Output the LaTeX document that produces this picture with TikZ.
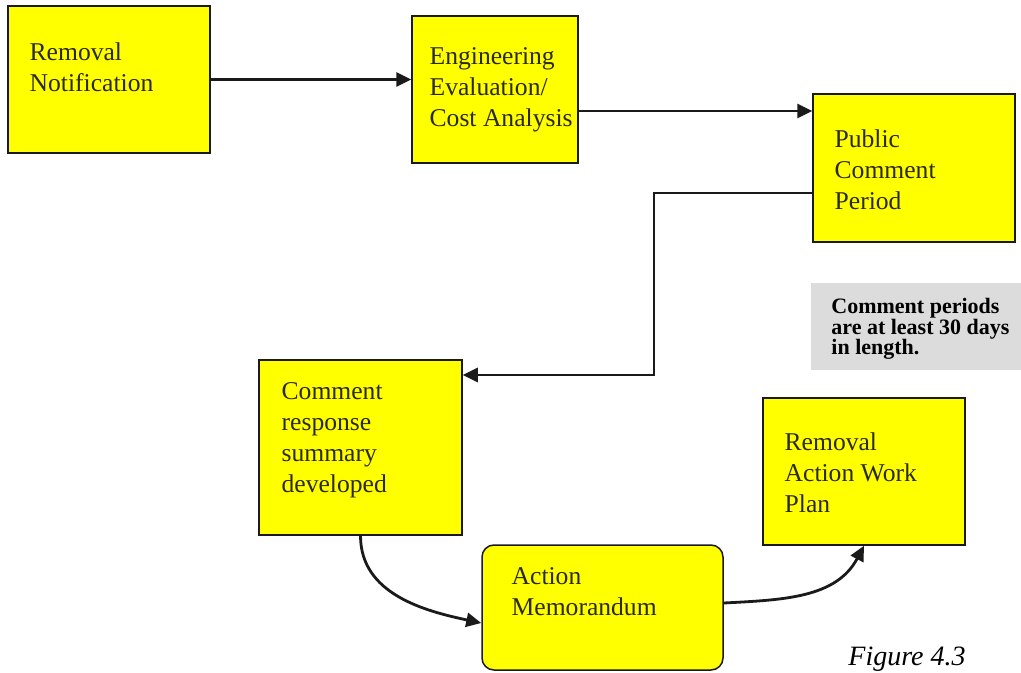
\documentclass[tikz,border=0pt]{standalone}
\usepackage{fontspec}
\setmainfont{Liberation Serif}
\usetikzlibrary{positioning,arrows.meta}
\definecolor{boxfill}{HTML}{FFFF00}
\definecolor{notebg}{HTML}{DCDCDC}
\definecolor{ink}{HTML}{1A1A1A}
\definecolor{boxtext}{HTML}{2A2A12}
\tikzset{
  stepbox/.style={draw=ink, line width=0.75pt, fill=boxfill, inner sep=0pt},
  txt/.style={inner sep=0pt, align=left, text=boxtext, font=\fontsize{12.8}{15.5}\selectfont},
  notetxt/.style={inner sep=0pt, align=left, text=black, font=\bfseries\fontsize{11}{10.2}\selectfont},
  conn/.style={draw=ink, line width=1.4pt, -{Triangle[length=7.5pt,width=7pt]}},
  notebox/.style={fill=notebg, inner sep=0pt, anchor=north west},
}

\begin{document}
\begin{tikzpicture}[x=0.5pt,y=-0.5pt]
  \useasboundingbox (0,0) rectangle (1021,673);
  \clip (0,0) rectangle (1021,673);

  % top row
  \node[stepbox, minimum width=101pt, minimum height=73.5pt] (rn) at (109,79.5) {};
  \node[txt, below right=18.5pt and 11pt of rn.north west] (rnt) {Removal\\Notification};
  \node[stepbox, minimum width=83pt, minimum height=73.5pt] (ee) at (495,89.5) {};
  \node[txt, below right=16pt and 9pt of ee.north west] (eet) {Engineering\\Evaluation/\\Cost Analysis};
  \node[stepbox, minimum width=101pt, minimum height=74pt] (pc) at (914,168) {};
  \node[txt, below right=18pt and 11pt of pc.north west] (pct) {Public\\Comment\\Period};

  % note
  \node[notebox, minimum width=105pt, minimum height=43.5pt] (nb) at (811,283) {};
  \node[notetxt, below right=7.5pt and 10pt of nb.north west] (nbt) {Comment periods\\are at least 30 days\\in length.};

  % bottom row
  \node[stepbox, minimum width=101.5pt, minimum height=87.5pt] (cr) at (360.5,447.5) {};
  \node[txt, below right=11.5pt and 11.5pt of cr.north west] (crt) {Comment\\response\\summary\\developed};
  \node[stepbox, rounded corners=6pt, minimum width=120.5pt, minimum height=62.5pt] (am) at (602.5,607.5) {};
  \node[txt, below right=11.5pt and 15pt of am.north west] (amt) {Action\\Memorandum};
  \node[stepbox, minimum width=101pt, minimum height=73.5pt] (wp) at (864,471.5) {};
  \node[txt, below right=17.5pt and 11pt of wp.north west] (wpt) {Removal\\Action Work\\Plan};

  % connectors
  \coordinate (bend) at (654,375);
  \draw[conn] (rn.east) -- (rn.east -| ee.west);
  \draw[conn] ([yshift=-10.75pt]ee.east) -- ([yshift=-10.75pt]ee.east -| pc.west);
  \draw[conn] ([yshift=-12.5pt]pc.west) -| (bend) -- ([yshift=36.25pt]cr.east);
  \draw[conn] (cr.south) to[out=-90,in=168] ([yshift=-7.75pt]am.west);
  \draw[conn] ([yshift=2.25pt]am.east) to[out=3,in=-118] (wp.south);

  \node[inner sep=0pt, anchor=base west, font=\itshape\fontsize{14}{14}\selectfont] (fig) at (848,665) {Figure 4.3};
\end{tikzpicture}
\end{document}
